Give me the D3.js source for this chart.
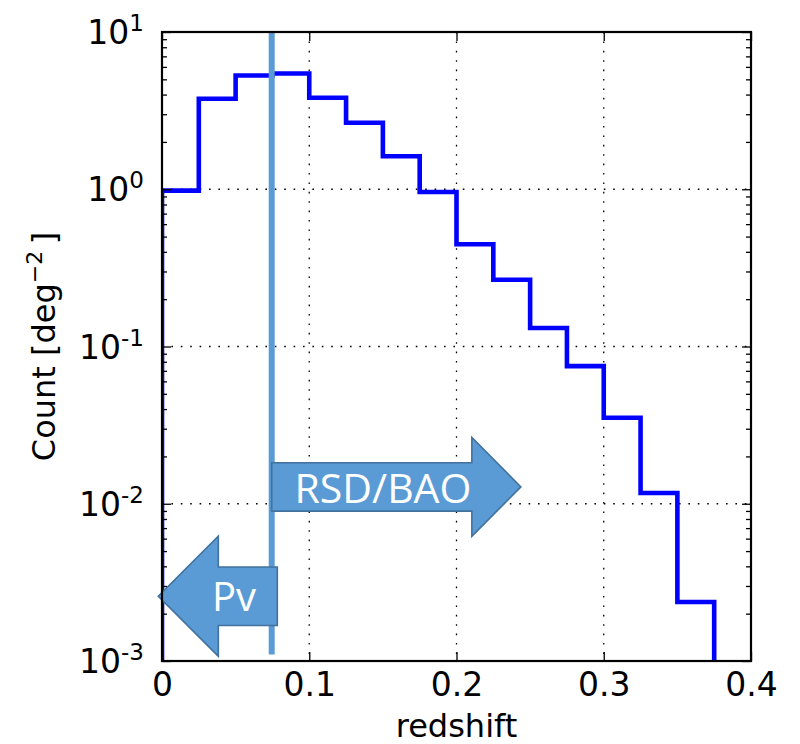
<!DOCTYPE html>
<html>
<head>
<meta charset="utf-8">
<script src="https://cdn.jsdelivr.net/npm/d3@7"></script>
<style>
  html, body { margin: 0; padding: 0; background: #fff; }
  svg { display: block; }
  .tick text { font-family: "DejaVu Sans", sans-serif; }
</style>
</head>
<body>
<svg id="chart" width="800" height="744"></svg>
<script>
// Histogram bin edges (redshift) and counts per bin [deg^-2]
const binEdges = [0, 0.025, 0.05, 0.075, 0.1, 0.125, 0.15, 0.175, 0.2, 0.225, 0.25, 0.275, 0.3, 0.325, 0.35, 0.375];
const counts = [0.98, 3.76, 5.29, 5.45, 3.82, 2.65, 1.62, 0.96, 0.447, 0.266, 0.131, 0.075, 0.0352, 0.0117, 0.00237];

// Axis ticks
const xTicks = [0, 0.1, 0.2, 0.3, 0.4];
const xTickLabels = ["0", "0.1", "0.2", "0.3", "0.4"];
const yExponents = [1, 0, -1, -2, -3];

// Redshift split between peculiar-velocity and RSD/BAO samples
const zSplit = 0.0745;
const splitLineRange = [0.0011, 10];

// Annotation arrows: anchor points in data units
const rsdArrow = { label: "RSD/BAO", tailX: zSplit, tipX: 0.2437, y: 0.0128 };
const pvArrow = { label: "Pv", tailX: 0.0783, tipX: -0.0025, y: 0.00258 };

const svg = d3.select("#chart");
const plot = { left: 162, right: 751, top: 32, bottom: 661 };

const x = d3.scaleLinear().domain([0, 0.4]).range([plot.left, plot.right]);
const y = d3.scaleLog().domain([1e-3, 10]).range([plot.bottom, plot.top]);

svg.append("defs").append("clipPath").attr("id", "plotClip")
  .append("rect")
  .attr("x", plot.left).attr("y", plot.top)
  .attr("width", plot.right - plot.left).attr("height", plot.bottom - plot.top);

// Dotted grid at major ticks
const grid = svg.append("g").attr("stroke", "#000").attr("stroke-width", 1.3)
  .attr("stroke-dasharray", "1.6,7.8").attr("fill", "none");
grid.selectAll("line.gx").data(xTicks.slice(1, -1)).join("line").attr("class", "gx")
  .attr("x1", d => x(d)).attr("x2", d => x(d))
  .attr("y1", plot.top).attr("y2", plot.bottom);
grid.selectAll("line.gy").data(yExponents.slice(1, -1)).join("line").attr("class", "gy")
  .attr("x1", plot.left).attr("x2", plot.right)
  .attr("y1", d => y(Math.pow(10, d))).attr("y2", d => y(Math.pow(10, d)));

// Step histogram
const stepPoints = [[binEdges[0], 1e-3]]
  .concat(counts.map((c, i) => [binEdges[i + 1], c]))
  .concat([[binEdges[binEdges.length - 1], 1e-3]]);
const stepLine = d3.line().x(d => x(d[0])).y(d => y(d[1])).curve(d3.curveStepBefore);
svg.append("path")
  .attr("clip-path", "url(#plotClip)")
  .attr("d", stepLine(stepPoints))
  .attr("fill", "none").attr("stroke", "#0000ff").attr("stroke-width", 4.6)
  .attr("stroke-linejoin", "miter");

// Vertical split line
svg.append("line")
  .attr("x1", x(zSplit)).attr("x2", x(zSplit))
  .attr("y1", y(splitLineRange[0])).attr("y2", y(splitLineRange[1]))
  .attr("stroke", "#5b9bd5").attr("stroke-width", 6);

// Block arrows
function arrowPath(a, bodyHalf, headHalf, headLen) {
  const tx = x(a.tailX), px = x(a.tipX), cy = y(a.y);
  const dir = Math.sign(px - tx);
  const hx = px - dir * headLen;
  return `M${tx},${cy - bodyHalf} L${hx},${cy - bodyHalf} L${hx},${cy - headHalf} L${px},${cy} ` +
    `L${hx},${cy + headHalf} L${hx},${cy + bodyHalf} L${tx},${cy + bodyHalf} Z`;
}
const arrows = svg.append("g");
arrows.append("path").attr("d", arrowPath(rsdArrow, 24.2, 49.5, 49))
  .attr("fill", "#5b9bd5").attr("stroke", "#41719c").attr("stroke-width", 1.6);
arrows.append("path").attr("d", arrowPath(pvArrow, 29.3, 60, 60))
  .attr("fill", "#5b9bd5").attr("stroke", "#41719c").attr("stroke-width", 1.6);
arrows.append("text").text(rsdArrow.label)
  .attr("x", 383).attr("y", y(rsdArrow.y) + 16)
  .attr("text-anchor", "middle").attr("fill", "#fff")
  .attr("font-family", "'Open Sans', sans-serif").attr("font-size", 41);
arrows.append("text").text(pvArrow.label)
  .attr("x", 234).attr("y", y(pvArrow.y) + 15)
  .attr("text-anchor", "middle").attr("fill", "#fff")
  .attr("font-family", "'Open Sans', sans-serif").attr("font-size", 40);

// Ticks (pointing inward) on all four sides
const majorY = yExponents.map(e => Math.pow(10, e));
const minorY = y.ticks().filter(v => Math.abs(Math.log10(v) - Math.round(Math.log10(v))) > 1e-9);

function addAxis(axis, tx, ty) {
  const g = svg.append("g").attr("transform", `translate(${tx},${ty})`).call(axis);
  g.select(".domain").remove();
  g.selectAll(".tick line").attr("stroke", "#000").attr("stroke-width", 1.3);
  return g;
}
addAxis(d3.axisLeft(y).tickValues(minorY).tickSize(-5).tickFormat(""), plot.left, 0);
addAxis(d3.axisRight(y).tickValues(minorY).tickSize(-5).tickFormat(""), plot.right, 0);
addAxis(d3.axisLeft(y).tickValues(majorY).tickSize(-9).tickFormat(""), plot.left, 0);
addAxis(d3.axisRight(y).tickValues(majorY).tickSize(-9).tickFormat(""), plot.right, 0);
addAxis(d3.axisTop(x).tickValues(xTicks).tickSize(-9).tickFormat(""), 0, plot.top);
const xAxisG = addAxis(d3.axisBottom(x).tickValues(xTicks).tickSize(-9).tickPadding(12)
  .tickFormat((d, i) => xTickLabels[i]), 0, plot.bottom);
xAxisG.selectAll(".tick text").attr("font-size", 33).attr("fill", "#000");

// Y tick labels as powers of ten
const yLabels = svg.append("g").attr("font-family", "'DejaVu Sans', sans-serif").attr("fill", "#000");
yExponents.forEach(e => {
  const t = yLabels.append("text")
    .attr("x", 144).attr("y", y(Math.pow(10, e)) + 12)
    .attr("text-anchor", "end").attr("font-size", 33);
  t.append("tspan").text("10");
  t.append("tspan").text(String(e)).attr("font-size", 23).attr("dy", -13);
});

// Frame
svg.append("rect")
  .attr("x", plot.left).attr("y", plot.top)
  .attr("width", plot.right - plot.left).attr("height", plot.bottom - plot.top)
  .attr("fill", "none").attr("stroke", "#000").attr("stroke-width", 2.2);

// Axis titles
svg.append("text").text("redshift")
  .attr("x", (plot.left + plot.right) / 2).attr("y", 737)
  .attr("text-anchor", "middle").attr("font-family", "'DejaVu Sans', sans-serif")
  .attr("font-size", 32).attr("fill", "#000");

const yTitle = svg.append("text")
  .attr("transform", `translate(55,${(plot.top + plot.bottom) / 2}) rotate(-90)`)
  .attr("text-anchor", "middle").attr("font-family", "'DejaVu Sans', sans-serif")
  .attr("font-size", 32).attr("fill", "#000");
yTitle.append("tspan").text("Count [deg");
yTitle.append("tspan").text("\u22122").attr("font-size", 22).attr("dy", -13);
yTitle.append("tspan").text("\u2009]").attr("dy", 13);
</script>
</body>
</html>
